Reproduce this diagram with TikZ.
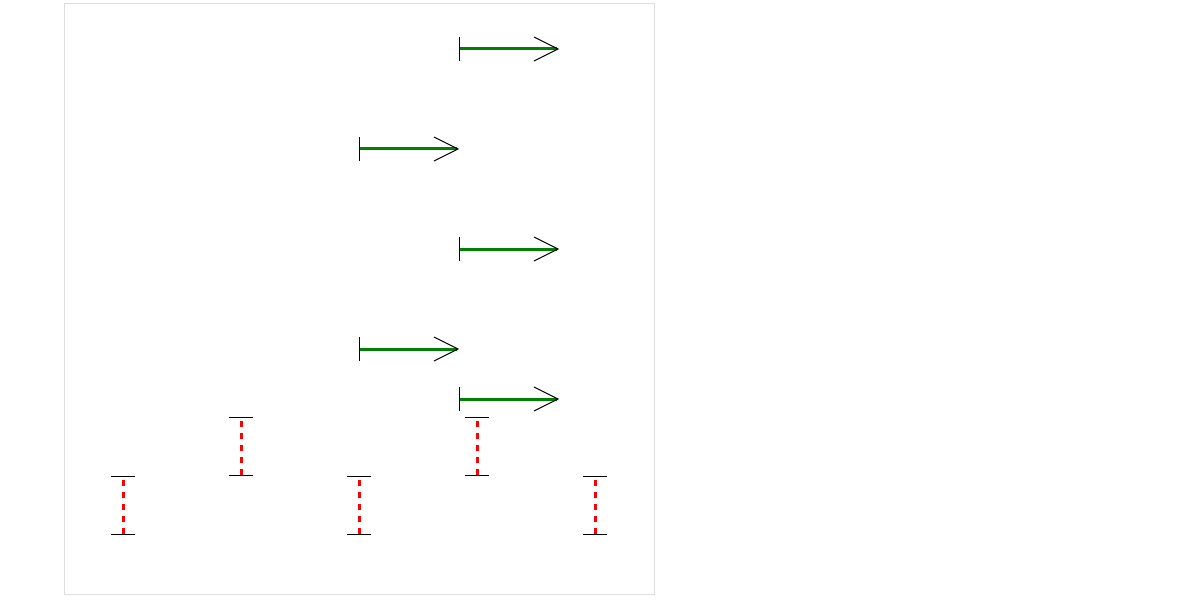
\documentclass[tikz,border=0pt]{standalone}
\usetikzlibrary{arrows.meta}

\tikzset{
  frame/.style={draw=black!13, line width=0.5bp},
  flow/.style={draw=green!50!black, line width=1.5bp,
    {Bar[color=black, width=12bp, line width=0.5bp]}-{Straight Barb[color=black, length=12bp, width=12bp, line width=0.5bp]}},
  gap/.style={draw=red, line width=1.5bp, dash pattern=on 3bp off 3bp,
    {Bar[color=black, width=12bp, line width=0.5bp]}-{Bar[color=black, width=12bp, line width=0.5bp]}}
}

\begin{document}
\begin{tikzpicture}[x=0.5bp, y=-0.5bp]
  \useasboundingbox (0,0) rectangle (1184,600);
  \draw[frame] (64,4) rectangle (654,594);

  % arrows
  \coordinate (s1) at (459,49);  \coordinate (e1) at (559,49);
  \coordinate (s2) at (359,149); \coordinate (e2) at (459,149);
  \coordinate (s3) at (459,249); \coordinate (e3) at (559,249);
  \coordinate (s4) at (359,349); \coordinate (e4) at (459,349);
  \coordinate (s5) at (459,399); \coordinate (e5) at (559,399);
  \foreach \i in {1,...,5}
    \draw[flow] (s\i) -- (e\i);

  % dashed bars
  \foreach \x/\top [count=\i] in {123/476, 241/417, 359/476, 477/417, 595/476} {
    \coordinate (b\i) at (\x,\top+59);
    \coordinate (t\i) at (\x,\top);
    \draw[gap] (b\i) -- (t\i);
  }
\end{tikzpicture}
\end{document}
